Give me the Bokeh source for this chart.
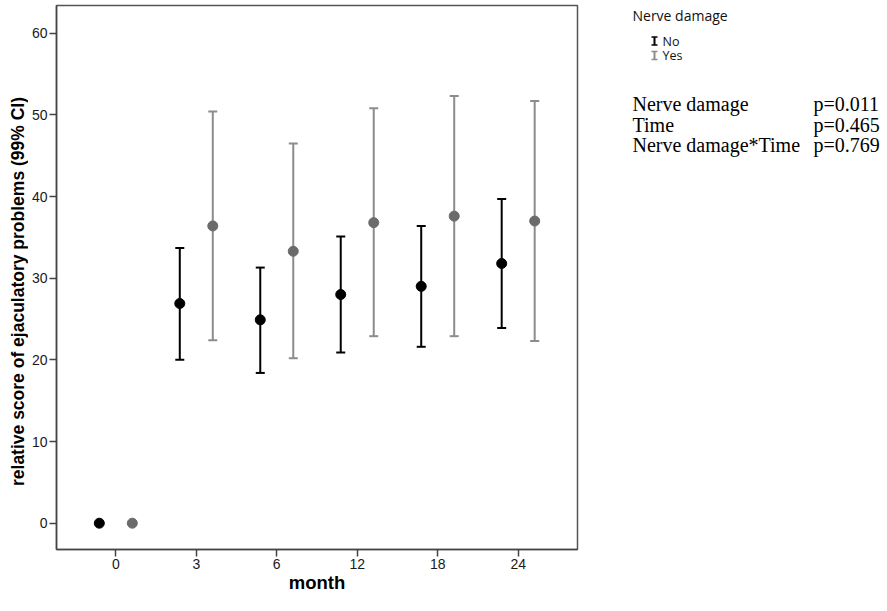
import math
from bokeh.plotting import figure
from bokeh.models import ColumnDataSource, FactorRange, Range1d, FixedTicker
from bokeh.transform import dodge
from bokeh.layouts import row
from bokeh.embed import file_html
from bokeh.resources import INLINE
from bokeh.core.properties import value

# ---- data ----
months = ["0", "3", "6", "12", "18", "24"]
no_mean = [0.0, 26.9, 24.9, 28.0, 29.0, 31.8]
no_lower = [0.0, 20.0, 18.4, 20.9, 21.6, 23.9]
no_upper = [0.0, 33.7, 31.3, 35.1, 36.4, 39.7]
yes_mean = [0.0, 36.4, 33.3, 36.8, 37.6, 37.0]
yes_lower = [0.0, 22.4, 20.2, 22.9, 22.9, 22.3]
yes_upper = [0.0, 50.4, 46.5, 50.8, 52.3, 51.7]
y_ticks = [0, 10, 20, 30, 40, 50, 60]
x_title = "month"
y_title = "relative score of ejaculatory problems (99% CI)"
legend_title = "Nerve damage"
legend_labels = ["No", "Yes"]
effects = ["Nerve damage", "Time", "Nerve damage*Time"]
p_values = ["p=0.011", "p=0.465", "p=0.769"]

BLACK = "#000000"
GREY_DOT = "#6b6b6b"
GREY_BAR = "#8c8c8c"
AXIS = "#444444"

# shared vertical layout of the three panels (page pixels)
TOP, BOTTOM, H = 5, 62, 611


def side_panel(width):
    f = figure(width=width, height=H, x_range=Range1d(0, width), y_range=Range1d(H - BOTTOM, TOP),
               output_backend="svg", toolbar_location=None,
               min_border_left=0, min_border_right=0, min_border_top=TOP, min_border_bottom=BOTTOM,
               x_axis_location=None, y_axis_location=None)
    f.grid.visible = False
    f.outline_line_color = None
    return f


# ---- left panel: y title ----
LW = 28
lp = side_panel(LW)
lp.text(x=[17], y=[291], text=[y_title], angle=math.pi / 2, text_align="center", text_baseline="middle",
        text_font=value("Liberation Sans"), text_font_style="bold", text_font_size="17.5px",
        text_color="#000000")

# ---- main plot ----
src = ColumnDataSource(dict(month=months, no_mean=no_mean, no_lower=no_lower, no_upper=no_upper,
                            yes_mean=yes_mean, yes_lower=yes_lower, yes_upper=yes_upper))

x_range = FactorRange(factors=months, range_padding=0.237, range_padding_units="absolute")
p = figure(x_range=x_range, y_range=Range1d(-3.22, 63.39), width=582 - LW, height=H,
           output_backend="svg", toolbar_location=None,
           min_border_left=55 - LW, min_border_right=5, min_border_top=TOP, min_border_bottom=BOTTOM)

x_no = dodge("month", -0.205, range=x_range)
x_yes = dodge("month", 0.205, range=x_range)

for xs, pre, bar_c, dot_c in [(x_no, "no", BLACK, BLACK), (x_yes, "yes", GREY_BAR, GREY_DOT)]:
    p.segment(x0=xs, y0=pre + "_lower", x1=xs, y1=pre + "_upper", source=src,
              line_color=bar_c, line_width=2)
    p.scatter(x=xs, y=pre + "_lower", marker="dash", size=9, line_color=bar_c, line_width=2, source=src)
    p.scatter(x=xs, y=pre + "_upper", marker="dash", size=9, line_color=bar_c, line_width=2, source=src)
    p.scatter(x=xs, y=pre + "_mean", marker="circle", size=10, fill_color=dot_c, line_color=dot_c, source=src)

p.xgrid.visible = False
p.ygrid.visible = False
p.outline_line_color = "#555555"
p.outline_line_width = 1.5
p.yaxis.ticker = FixedTicker(ticks=y_ticks)
for ax in (p.xaxis[0], p.yaxis[0]):
    ax.axis_line_color = AXIS
    ax.axis_line_width = 1.5
    ax.major_tick_line_color = AXIS
    ax.major_tick_line_width = 1.5
    ax.major_tick_out = 7
    ax.major_tick_in = 0
    ax.minor_tick_out = 0
    ax.minor_tick_in = 0
    ax.major_label_text_font = "Liberation Sans"
    ax.major_label_text_font_size = "14px"
    ax.major_label_text_color = "#1a1a1a"
    ax.axis_label_text_font = "Liberation Sans"
    ax.axis_label_text_font_style = "bold"
    ax.axis_label_text_color = "#000000"
p.xaxis.axis_label_text_font_size = "18.5px"
p.xaxis.major_label_standoff = 2
p.yaxis.major_label_standoff = 2
p.xaxis.axis_label = x_title
p.xaxis.axis_label_standoff = 0

# ---- right panel: legend and test results ----
q = side_panel(887 - 582)

q.text(x=[50], y=[15], text=[legend_title], text_font=value("Open Sans"), text_font_size="14px",
       text_baseline="middle", text_color="#111111")
icon_y = [40.5, 55]
icon_c = [BLACK, GREY_BAR]
for yy, cc, lab in zip(icon_y, icon_c, legend_labels):
    q.segment(x0=[72], y0=[yy - 4], x1=[72], y1=[yy + 4], line_color=cc, line_width=2)
    q.segment(x0=[69, 69], y0=[yy - 4, yy + 4], x1=[75, 75], y1=[yy - 4, yy + 4], line_color=cc, line_width=1.5)
    q.text(x=[80], y=[yy], text=[lab], text_font=value("Open Sans"), text_font_size="12.5px",
           text_baseline="middle", text_color="#111111")

row_y = [103.5, 124, 144.5]
q.text(x=[50] * 3, y=row_y, text=effects, text_font=value("Liberation Serif"), text_font_size="20px",
       text_baseline="middle", text_color="#000000")
q.text(x=[231] * 3, y=row_y, text=p_values, text_font=value("Liberation Serif"), text_font_size="20px",
       text_baseline="middle", text_color="#000000")

layout = row(lp, p, q)
open("out.html", "w").write(file_html(layout, INLINE))
